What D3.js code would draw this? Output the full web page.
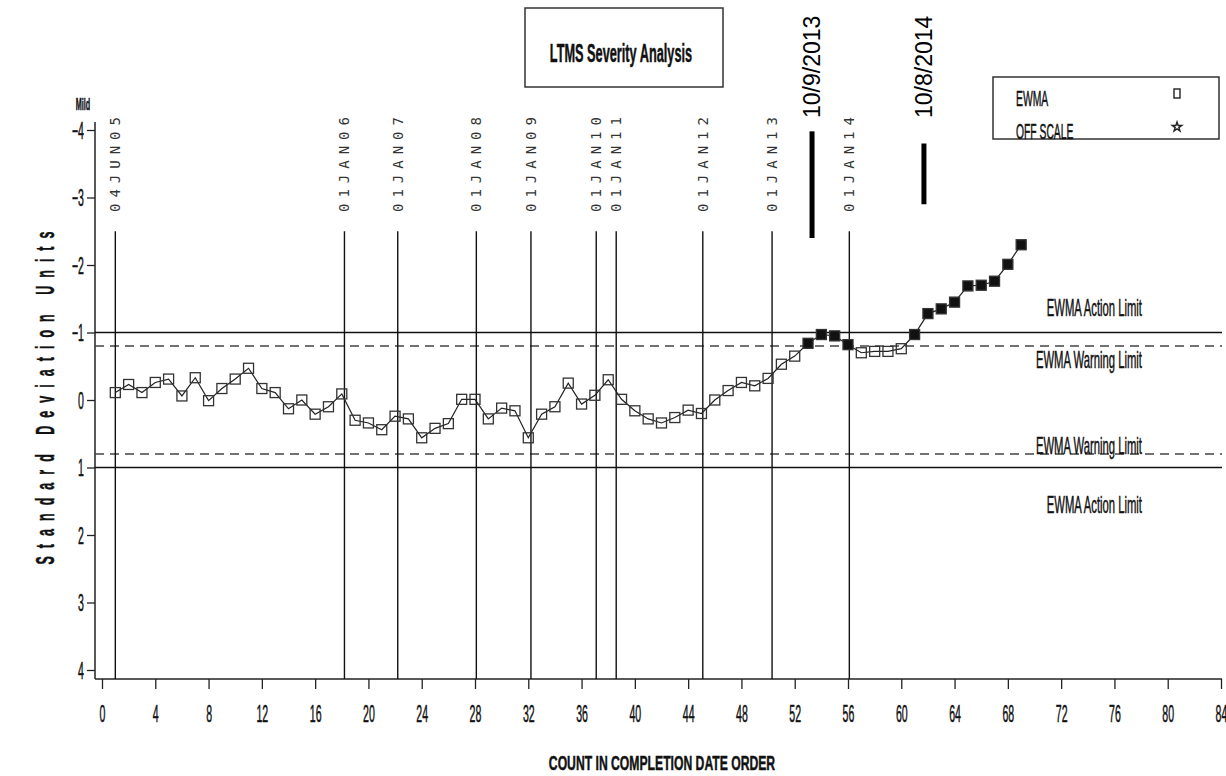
<!DOCTYPE html>
<html>
<head>
<meta charset="utf-8">
<script src="https://cdn.jsdelivr.net/npm/d3@7"></script>
<style>
  body { margin: 0; background: #fff; }
  svg { display: block; }
</style>
</head>
<body>
<svg id="chart" width="1226" height="776"></svg>
<script>
// ---- data ----
const counts = d3.range(1, 70);
const ewma = [
  -0.11, -0.23, -0.11, -0.26, -0.31, -0.06, -0.33, 0.01, -0.17, -0.31,
  -0.47, -0.17, -0.11, 0.13, 0.00, 0.21, 0.10, -0.09, 0.30, 0.34,
  0.44, 0.24, 0.28, 0.56, 0.42, 0.35, -0.01, -0.01, 0.28, 0.12,
  0.16, 0.56, 0.21, 0.10, -0.25, 0.06, -0.07, -0.30, -0.01, 0.16,
  0.28, 0.34, 0.26, 0.15, 0.20, 0.00, -0.14, -0.26, -0.21, -0.32,
  -0.53, -0.65, -0.84, -0.97, -0.95, -0.82, -0.70, -0.72, -0.72, -0.76,
  -0.97, -1.28, -1.35, -1.45, -1.69, -1.70, -1.76, -2.01, -2.30
];
const actionLimits = [-1, 1];
const warningLimits = [-0.8, 0.8];
const limitLabels = ["EWMA Action Limit", "EWMA Warning Limit", "EWMA Warning Limit", "EWMA Action Limit"];
const dateLabels = ["04JUN05", "01JAN06", "01JAN07", "01JAN08", "01JAN09", "01JAN10", "01JAN11", "01JAN12", "01JAN13", "01JAN14"];
const datePositions = [1, 18.2, 22.2, 28.1, 32.2, 37.1, 38.6, 45.1, 50.3, 56.1];
const noteLabels = ["10/9/2013", "10/8/2014"];
const notePositions = [53.3, 61.7];
const noteSpans = [[-3.98, -2.4], [-3.8, -2.9]];
const xTicks = d3.range(0, 85, 4);
const xMinor = d3.range(0, 85, 1);
const yTicks = d3.range(-4, 5, 1);
const yMinor = d3.range(-20, 21).map(d => d / 5);
const legendItems = ["EWMA", "OFF SCALE"];

// ---- layout ----
const svg = d3.select("#chart");
const x = d3.scaleLinear().domain([0, 84]).range([102, 1221]);
const y = d3.scaleLinear().domain([-4, 4]).range([130, 670]);
const axisY = y(4) + 9;       // baseline of the count axis
const axisX = 95;             // position of the deviation axis
const plotRight = 1222;
const FONT = "'Liberation Sans', Arial, sans-serif";
const INK = "#111";

// condensed text helper: SAS-style narrow lettering
function narrow(parent, px, py, str, opt = {}) {
  const o = Object.assign({ size: 21, sx: 0.5, weight: "normal", anchor: "middle", rotate: 0, fill: INK }, opt);
  return parent.append("text")
    .attr("transform", `translate(${px},${py}) rotate(${o.rotate}) scale(${o.sx},1)`)
    .attr("font-family", FONT)
    .attr("font-size", o.size)
    .attr("font-weight", o.weight)
    .attr("text-anchor", o.anchor)
    .attr("fill", o.fill)
    .attr("stroke", o.fill)
    .attr("stroke-width", 0.5)
    .text(str);
}

// ---- axes ----
const gx = svg.append("g").attr("transform", `translate(0,${axisY})`);
gx.call(d3.axisBottom(x).tickValues(xMinor).tickSize(6).tickFormat(""));
gx.call(d3.axisBottom(x).tickValues(xTicks).tickSize(10).tickFormat(d3.format("d")));
gx.selectAll(".domain").remove();
gx.selectAll("line").attr("stroke", "#222").attr("stroke-width", 1.3);
gx.selectAll("text")
  .attr("y", 43).attr("dy", 0)
  .attr("transform", "scale(0.46,1)")
  .attr("font-family", FONT).attr("font-size", 23)
  .attr("fill", INK).attr("stroke", INK).attr("stroke-width", 0.5);

const gy = svg.append("g").attr("transform", `translate(${axisX},0)`);
gy.call(d3.axisLeft(y).tickValues(yMinor).tickSize(4).tickFormat(""));
gy.call(d3.axisLeft(y).tickValues(yTicks).tickSize(8).tickFormat(d => d < 0 ? "\u2212" + Math.abs(d) : String(d)));
gy.selectAll(".domain").remove();
gy.selectAll("line").attr("stroke", "#222").attr("stroke-width", 1.3);
gy.selectAll("text")
  .attr("x", null).attr("dy", "0.36em")
  .attr("transform", "translate(-11,0) scale(0.46,1)")
  .attr("font-family", FONT).attr("font-size", 23)
  .attr("fill", INK).attr("stroke", INK).attr("stroke-width", 0.5);

svg.append("line").attr("x1", axisX).attr("x2", plotRight).attr("y1", axisY).attr("y2", axisY)
  .attr("stroke", "#222").attr("stroke-width", 1.5);
svg.append("line").attr("x1", axisX).attr("x2", axisX).attr("y1", y(-4) - 8).attr("y2", axisY)
  .attr("stroke", "#222").attr("stroke-width", 1.5);

narrow(svg, 83, 110, "Mild", { size: 16, sx: 0.45, weight: "bold" });

// axis titles
narrow(svg, 54, 398, "Standard Deviation Units", { size: 25, sx: 0.5, weight: "bold", rotate: -90 })
  .attr("textLength", 666).attr("lengthAdjust", "spacing");
narrow(svg, 662, 770, "COUNT IN COMPLETION DATE ORDER", { size: 21, sx: 0.58, weight: "bold" });

// ---- control limits ----
const limits = svg.append("g");
limits.selectAll("line.action").data(actionLimits).join("line")
  .attr("class", "action")
  .attr("x1", axisX).attr("x2", plotRight)
  .attr("y1", d => y(d)).attr("y2", d => y(d))
  .attr("stroke", "#111").attr("stroke-width", 1.6);
limits.selectAll("line.warn").data(warningLimits).join("line")
  .attr("class", "warn")
  .attr("x1", axisX).attr("x2", plotRight)
  .attr("y1", d => y(d)).attr("y2", d => y(d))
  .attr("stroke", "#444").attr("stroke-width", 1.5)
  .attr("stroke-dasharray", "9,6");

const limitLevels = [actionLimits[0], warningLimits[0], warningLimits[1], actionLimits[1]];
const limitOffsets = [-17, 22, 0, 45];
limitLabels.forEach((t, i) => {
  narrow(svg, 1142, y(limitLevels[i]) + limitOffsets[i], t, { size: 23, sx: 0.49, anchor: "end" });
});

// ---- date reference lines ----
const dates = svg.append("g");
dates.selectAll("line").data(datePositions).join("line")
  .attr("x1", d => x(d)).attr("x2", d => x(d))
  .attr("y1", y(-2.5)).attr("y2", axisY)
  .attr("stroke", "#111").attr("stroke-width", 1.4);
dates.selectAll("text").data(dateLabels).join("text")
  .attr("transform", (d, i) => `translate(${x(datePositions[i]) + 5},212) rotate(-90)`)
  .attr("font-family", "'DejaVu Sans Mono', monospace")
  .attr("font-size", 14)
  .attr("fill", "#333")
  .attr("textLength", 95).attr("lengthAdjust", "spacing")
  .text(d => d);

// ---- EWMA series ----
const pts = counts.map((c, i) => ({ c, v: ewma[i] }));
svg.append("path")
  .datum(pts)
  .attr("fill", "none").attr("stroke", "#222").attr("stroke-width", 1.2)
  .attr("d", d3.line().x(d => x(d.c)).y(d => y(d.v)));

const S = 10;
svg.append("g").selectAll("rect").data(pts).join("rect")
  .attr("x", d => x(d.c) - S / 2).attr("y", d => y(d.v) - S / 2)
  .attr("width", S).attr("height", S)
  .attr("fill", d => Math.abs(d.v) >= Math.abs(warningLimits[0]) ? "#111" : "none")
  .attr("stroke", "#333").attr("stroke-width", 1.3);

// ---- hand-marked dates ----
const notes = svg.append("g");
notes.selectAll("line").data(notePositions).join("line")
  .attr("x1", d => x(d)).attr("x2", d => x(d))
  .attr("y1", (d, i) => y(noteSpans[i][0])).attr("y2", (d, i) => y(noteSpans[i][1]))
  .attr("stroke", "#000").attr("stroke-width", 5);
notes.selectAll("text").data(noteLabels).join("text")
  .attr("transform", (d, i) => `translate(${x(notePositions[i]) + 8},118) rotate(-90)`)
  .attr("font-family", FONT).attr("font-size", 23).attr("fill", "#000")
  .text(d => d);

// ---- title ----
svg.append("rect").attr("x", 525).attr("y", 8).attr("width", 198).attr("height", 79)
  .attr("fill", "none").attr("stroke", "#333").attr("stroke-width", 1.5);
narrow(svg, 621, 62, "LTMS Severity Analysis", { size: 26, sx: 0.49, weight: "bold" });

// ---- legend ----
const lg = svg.append("g");
lg.append("rect").attr("x", 993).attr("y", 77).attr("width", 226).attr("height", 62)
  .attr("fill", "none").attr("stroke", "#333").attr("stroke-width", 1.5);
narrow(lg, 1016, 106, legendItems[0], { size: 22, sx: 0.47, anchor: "start" });
narrow(lg, 1016, 139, legendItems[1], { size: 22, sx: 0.47, anchor: "start" });
lg.append("rect").attr("x", 1174).attr("y", 89).attr("width", 6).attr("height", 9)
  .attr("fill", "none").attr("stroke", "#222").attr("stroke-width", 1.4);
lg.append("path")
  .attr("transform", "translate(1177,127)")
  .attr("d", d3.symbol().type(d3.symbolStar).size(28)())
  .attr("fill", "none").attr("stroke", "#222").attr("stroke-width", 1.4);
</script>
</body>
</html>
